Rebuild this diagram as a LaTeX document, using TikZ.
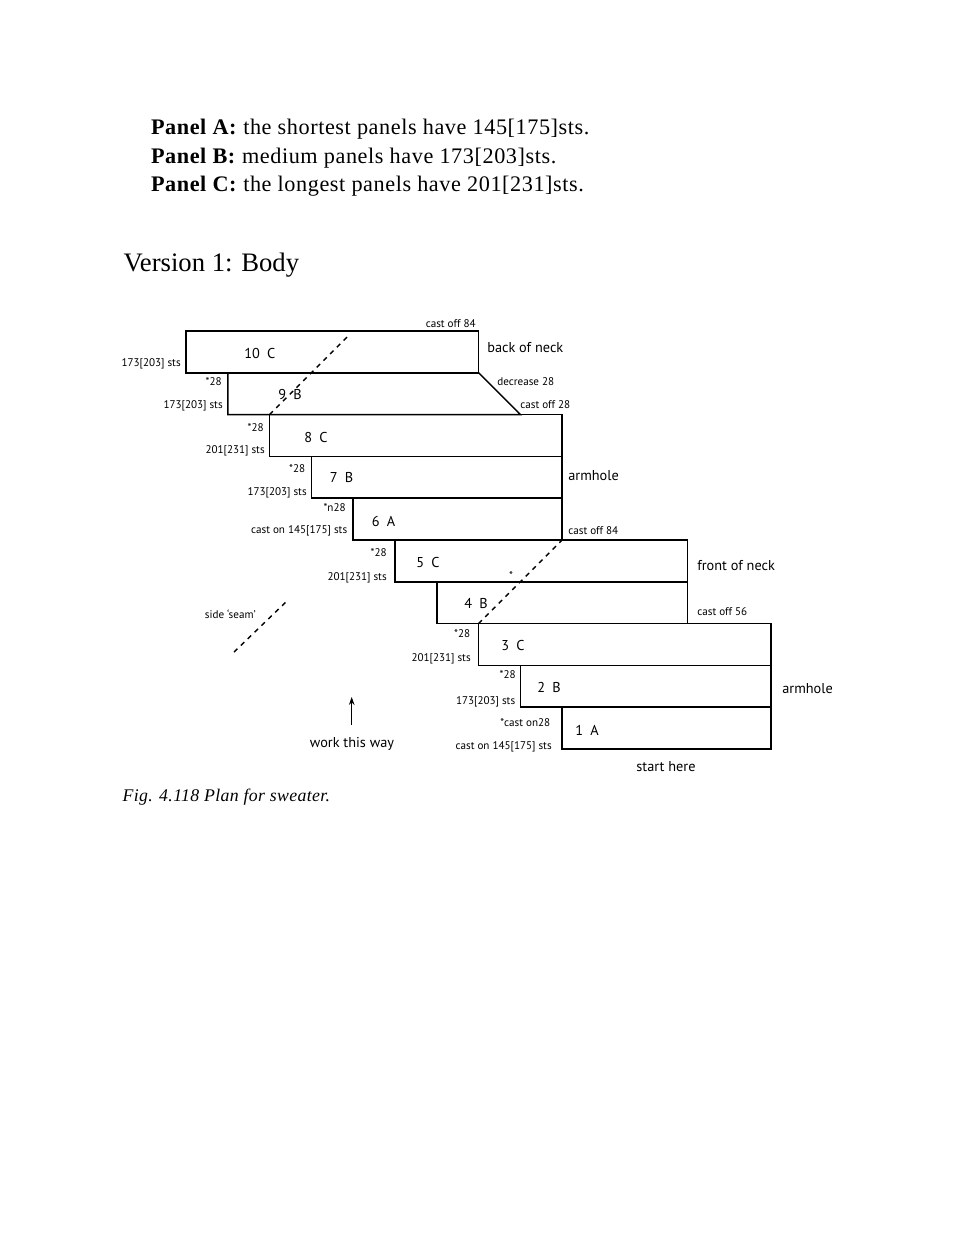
\documentclass[tikz,border=0pt]{standalone}
\usepackage{fontspec}
\setmainfont{Liberation Serif}
\newfontfamily\headfont[LetterSpace=2.6]{Liberation Serif}
\newfontfamily\capfont[LetterSpace=2.0]{Liberation Serif}
\newfontfamily\lblfont{PT Sans}
\usetikzlibrary{arrows.meta}
\begin{document}
\begin{tikzpicture}[x=0.63pt,y=-0.63pt,
  panel/.style={line width=0.9pt, line join=miter},
  seam/.style={line width=0.9pt, dash pattern=on 3pt off 3pt},
  sm/.style={font=\lblfont\fontsize{7}{8}\selectfont, inner sep=0pt, text height=5pt, text depth=0pt},
  bg/.style={font=\lblfont\fontsize{9}{10}\selectfont, inner sep=0pt, text height=6.3pt, text depth=0pt},
  head/.style={font=\headfont\fontsize{14}{16}\selectfont, inner sep=0pt, anchor=base west}
]
\useasboundingbox (0,0) rectangle (970,1255);

% heading text
\node[head] (pa) at (150.7,135) {\textbf{Panel A:} the shortest panels have 145[175]sts.};
\node[head] (pb) at (150.7,163.3) {\textbf{Panel B:} medium panels have 173[203]sts.};
\node[head] (pc) at (150.7,191.7) {\textbf{Panel C:} the longest panels have 201[231]sts.};
\node[font=\fontsize{16.8}{19}\selectfont, inner sep=0pt, anchor=base west] (ver) at (123.3,271.7) {Version 1: Body};

% panels
\begin{scope}[shift={(186,331)}, x=26.334pt, y=-26.334pt]
\draw[panel] (0,0) rectangle (7,1);
\draw[panel] (1,1) -- (7,1) -- (8,2) -- (1,2) -- cycle;
\draw[panel] (2,2) rectangle (9,3);
\draw[panel] (3,3) rectangle (9,4);
\draw[panel] (4,4) rectangle (9,5);
\draw[panel] (5,5) rectangle (12,6);
\draw[panel] (6,6) rectangle (12,7);
\draw[panel] (7,7) rectangle (14,8);
\draw[panel] (8,8) rectangle (14,9);
\draw[panel] (9,9) rectangle (14,10);
\coordinate (bs1) at (2,2);
\coordinate (bs2) at (3.93,0.07);
\coordinate (fs1) at (7,7);
\coordinate (fs2) at (9,5);
\end{scope}
\draw[seam] (bs1) -- (bs2);
\draw[seam] (fs1) -- (fs2);
\coordinate (ss1) at (234,652);
\coordinate (ss2) at (287,601);
\draw[seam] (ss1) -- (ss2);

% arrow
\coordinate (ar1) at (351.7,725);
\coordinate (ar2) at (351.7,697);
\draw[-{Stealth[length=5pt,width=3.5pt]}, line width=0.5pt] (ar1) -- (ar2);

% panel names
\node[bg, anchor=west] (p10) at (244,353.5) {10\hspace{0.5em}C};
\node[bg, anchor=west] (p9) at (278,394) {9\hspace{0.5em}B};
\node[bg, anchor=west] (p8) at (304,437.5) {8\hspace{0.5em}C};
\node[bg, anchor=west] (p7) at (329.5,477.5) {7\hspace{0.5em}B};
\node[bg, anchor=west] (p6) at (371.5,521) {6\hspace{0.5em}A};
\node[bg, anchor=west] (p5) at (416,562.5) {5\hspace{0.5em}C};
\node[bg, anchor=west] (p4) at (464,603.5) {4\hspace{0.5em}B};
\node[bg, anchor=west] (p3) at (501,645.5) {3\hspace{0.5em}C};
\node[bg, anchor=west] (p2) at (537,687.5) {2\hspace{0.5em}B};
\node[bg, anchor=west] (p1) at (575,730.5) {1\hspace{0.5em}A};

% left labels
\node[sm, anchor=east] (l10) at (181,363) {173[203] sts};
\node[sm, anchor=east] (s9) at (222,381.5) {*28};
\node[sm, anchor=east] (l9) at (223,404.5) {173[203] sts};
\node[sm, anchor=east] (s8) at (264,428) {*28};
\node[sm, anchor=east] (l8) at (265,450) {201[231] sts};
\node[sm, anchor=east] (s7) at (305.5,469) {*28};
\node[sm, anchor=east] (l7) at (307,491.5) {173[203] sts};
\node[sm, anchor=east] (s6) at (346,508) {*n28};
\node[sm, anchor=east] (l6) at (347.5,530) {cast on 145[175] sts};
\node[sm, anchor=east] (s5) at (387,553) {*28};
\node[sm, anchor=east] (l5) at (387,577) {201[231] sts};
\node[sm, anchor=east] (s3) at (470.5,634) {*28};
\node[sm, anchor=east] (l3) at (471,657.5) {201[231] sts};
\node[sm, anchor=east] (s2) at (516,675) {*28};
\node[sm, anchor=east] (l2) at (515.5,701) {173[203] sts};
\node[sm, anchor=east] (s1) at (550.5,723) {*cast on28};
\node[sm, anchor=east] (l1) at (552,746) {cast on 145[175] sts};

% right labels
\node[sm, anchor=east] (co84a) at (476,324) {cast off 84};
\node[bg, anchor=west] (bon) at (487,347.5) {back of neck};
\node[sm, anchor=west] (dec) at (497,381.5) {decrease 28};
\node[sm, anchor=west] (co28) at (520,405) {cast off 28};
\node[bg, anchor=west] (arm1) at (568,475) {armhole};
\node[sm, anchor=west] (co84b) at (568,530.5) {cast off 84};
\node[bg, anchor=west] (fon) at (697,565) {front of neck};
\node[sm, anchor=west] (co56) at (697,611.5) {cast off 56};
\node[bg, anchor=west] (arm2) at (782,688) {armhole};
\node[bg] (start) at (666,766) {start here};
\node[bg] (work) at (352,742) {work this way};
\node[sm, anchor=east] (side) at (256,615) {side ‘seam’};
\node[sm] (star) at (511,576) {*};

% caption
\node[font=\capfont\itshape\fontsize{11.2}{14}\selectfont, inner sep=0pt, anchor=base west] (cap) at (122.3,801.7) {Fig. 4.118 Plan for sweater.};
\end{tikzpicture}
\end{document}
